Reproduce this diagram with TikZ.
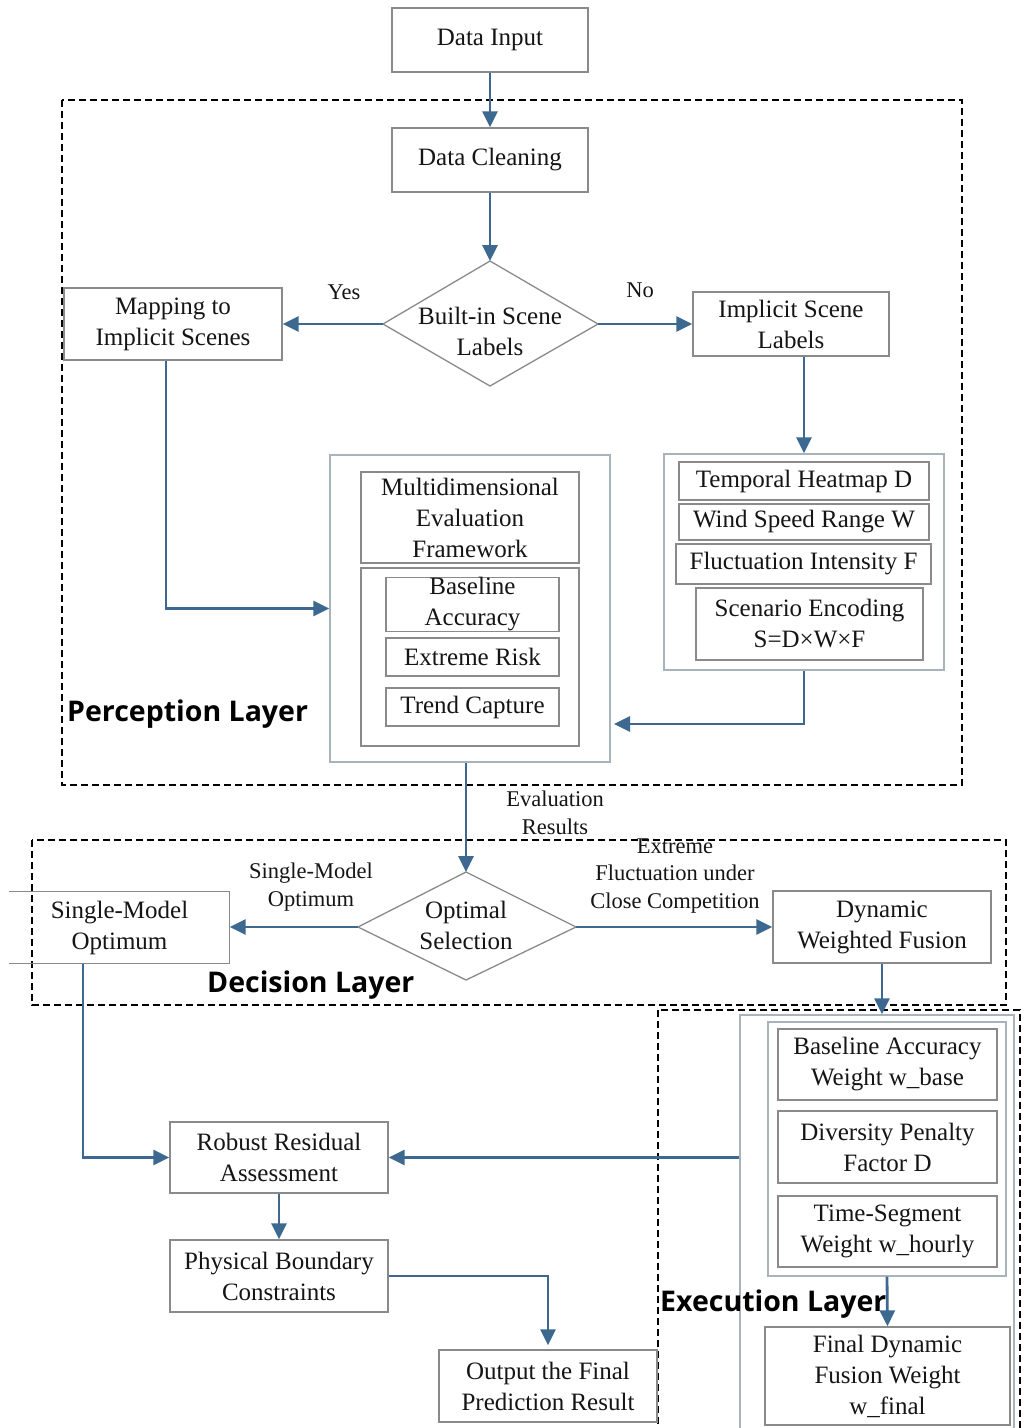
\documentclass[tikz,border=0pt]{standalone}
\usepackage{fontspec}
\setmainfont{Liberation Serif}
\newfontfamily\layerfont{Open Sans}
\usetikzlibrary{arrows.meta,calc}
\definecolor{arrblue}{HTML}{3D6990}
\definecolor{boxgray}{HTML}{8A8A8A}
\definecolor{lightbox}{HTML}{A9B3BC}
\definecolor{txt}{HTML}{151515}
\begin{document}
\begin{tikzpicture}[x=1pt,y=-1pt,
 box/.style={draw=boxgray,line width=1.3pt,inner sep=0pt,align=center,text=txt,font=\fontsize{25}{31}\selectfont},
 lbox/.style={draw=lightbox,line width=1.3pt,inner sep=0pt},
 lbl/.style={inner sep=0pt,align=center,text=txt,font=\fontsize{22.5}{27.5}\selectfont},
 layer/.style={inner sep=0pt,anchor=base west,text=black,font=\layerfont\bfseries\fontsize{28.5}{32}\selectfont},
 arr/.style={draw=arrblue,line width=2.8pt,-{Triangle[length=16pt,width=15pt]}},
 dbox/.style={draw=black,line width=1.8pt,dash pattern=on 7pt off 4pt},
 dia/.style={draw=boxgray,line width=1.3pt}]
\useasboundingbox (0,0) rectangle (1024,1428);
\fill[white] (0,0) rectangle (1024,1428);
\clip (0,0) rectangle (1024,1428);

% dashed layer frames
\draw[dbox] (62,100) rectangle (962,785);
\draw[dbox] (32,840) rectangle (1006,1005);
\draw[dbox] (658,1010) rectangle (1020,1445);

% top
\node[box,minimum width=196pt,minimum height=64pt] (din) at (490,40) {Data Input};
\node[box,minimum width=196pt,minimum height=64pt] (dcl) at (490,160) {Data Cleaning};

% diamond 1
\coordinate (d1t) at (490,261);
\coordinate (d1r) at (598,324);
\coordinate (d1b) at (490,386);
\coordinate (d1l) at (383,324);
\draw[dia] (d1t)--(d1r)--(d1b)--(d1l)--cycle;
\node[box,draw=none] (d1) at (490,331) {Built-in Scene\\Labels};

\node[box,minimum width=218pt,minimum height=72pt] (map) at (173,324) {Mapping to\\Implicit Scenes};
\node[box,minimum width=196pt,minimum height=64pt] (isl) at (791,324) {Implicit Scene\\Labels};
\node[lbl] (yes) at (344,292) {Yes};
\node[lbl] (no) at (640,290) {No};

% evaluation framework
\node[lbox,minimum width=280pt,minimum height=307pt] (meo) at (470,608.5) {};
\node[box,minimum width=218pt,minimum height=91pt] (mef) at (470,517.5) {Multidimensional\\Evaluation\\Framework};
\node[box,minimum width=218pt,minimum height=178pt] (mei) at (470,657) {};
\node[box,minimum width=173pt,minimum height=51pt] (ba) at (472.5,604.5) {Baseline\\Accuracy};
\node[box,minimum width=173pt,minimum height=38pt] (er) at (472.5,657) {Extreme Risk};
\node[box,minimum width=173pt,minimum height=38pt] (tc) at (472.5,707) {Trend Capture};

% scene encoding
\node[lbox,minimum width=280pt,minimum height=216pt] (sbox) at (804,562) {};
\node[box,minimum width=250pt,minimum height=38pt] (th) at (804,481) {Temporal Heatmap D};
\node[box,minimum width=250pt,minimum height=36pt] (ws) at (804,522) {Wind Speed Range W};
\node[box,minimum width=255pt,minimum height=40pt] (fi) at (803.5,564) {Fluctuation Intensity F};
\node[box,minimum width=227pt,minimum height=72pt] (se) at (809.5,624) {Scenario Encoding\\S=D×W×F};

\node[layer] (pl) at (67,721) {Perception Layer};

% decision
\coordinate (d2t) at (466,872);
\coordinate (d2r) at (576,927);
\coordinate (d2b) at (466,980);
\coordinate (d2l) at (358,927);
\draw[dia] (d2t)--(d2r)--(d2b)--(d2l)--cycle;
\node[box,draw=none] (d2) at (466,925) {Optimal\\Selection};

\node[box,draw=none,minimum width=219pt,minimum height=71pt] (smo) at (119.5,927.5) {Single-Model\\Optimum};
\draw[boxgray,line width=1.3pt] (smo.north west) -- (smo.north east) -- (smo.south east) -- (smo.south west);
\node[box,minimum width=218pt,minimum height=72pt] (dwf) at (882,927) {Dynamic\\Weighted Fusion};

\node[lbl] (lsm) at (311,887) {Single-Model\\Optimum};
\node[lbl] (lex) at (675,876) {Extreme\\Fluctuation under\\Close Competition};
\node[lbl] (lev) at (555,813) {Evaluation\\Results};

\node[layer] (dl) at (207,992) {Decision Layer};

% execution
\node[lbox,minimum width=274pt,minimum height=425pt] (execbox) at (877,1227.5) {};
\node[lbox,minimum width=238pt,minimum height=254pt] (wbox) at (887,1149) {};
\node[box,minimum width=219pt,minimum height=71pt] (baw) at (887.5,1064.5) {Baseline Accuracy\\Weight w\_base};
\node[box,minimum width=219pt,minimum height=72pt] (dpf) at (887.5,1147) {Diversity Penalty\\Factor D};
\node[box,minimum width=219pt,minimum height=71pt] (tsw) at (887.5,1231.5) {Time-Segment\\Weight w\_hourly};
\node[box,minimum width=245pt,minimum height=98pt] (fdw) at (887.5,1376) {Final Dynamic\\Fusion Weight\\w\_final};
\node[layer] (el) at (660,1311) {Execution Layer};

\node[box,minimum width=218pt,minimum height=71pt] (rra) at (279,1157.5) {Robust Residual\\Assessment};
\node[box,minimum width=218pt,minimum height=72pt] (pbc) at (279,1276) {Physical Boundary\\Constraints};
\node[box,minimum width=218pt,minimum height=72pt] (out) at (548,1386) {Output the Final\\Prediction Result};

\coordinate (c1) at (614,724);

% connectors
\draw[arr] (din.south) -- (dcl.north);
\draw[arr] (dcl.south) -- (d1t);
\draw[arr] (d1l) -- (d1l -| map.east);
\draw[arr] (d1r) -- (d1r -| isl.west);
\draw[arr] ($(map.south)+(-7,0)$) |- (meo.west);
\draw[arr] (isl.south -| sbox.north) -- (sbox.north);
\draw[arr] (sbox.south) |- (c1);
\draw[arr] (meo.south -| d2t) -- (d2t);
\draw[arr] (d2l) -- (d2l -| smo.east);
\draw[arr] (d2r) -- (d2r -| dwf.west);
\draw[arr] (dwf.south) -- (dwf.south |- execbox.north);
\draw[arr] ($(smo.south)+(-36.5,0)$) |- (rra.west);
\draw[arr] (execbox.west |- rra.east) -- (rra.east);
\draw[arr] (rra.south) -- (pbc.north);
\draw[arr,shorten >=4pt] (pbc.east) -| (out.north);
\draw[arr] (wbox.south) -- (fdw.north);
\end{tikzpicture}
\end{document}
